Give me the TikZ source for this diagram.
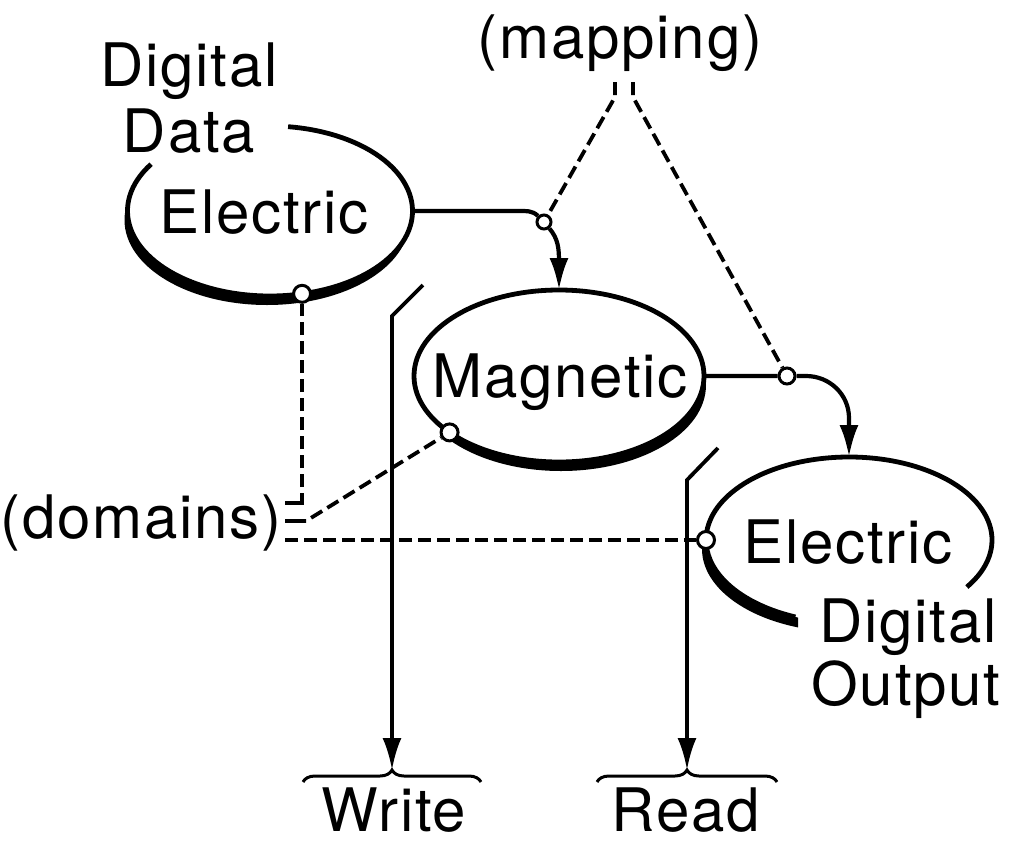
\documentclass[tikz,border=0pt]{standalone}
\usepackage{fontspec}
\setmainfont{TeX Gyre Heros}[LetterSpace=3]
\usetikzlibrary{arrows.meta,shapes.geometric,calc,decorations.pathreplacing}

\begin{document}
\begin{tikzpicture}[x=1pt,y=1pt,
  lbl/.style={font=\fontsize{60}{66}\selectfont, inner sep=0pt, anchor=base},
  rim/.style={line width=4.8pt},
  conn/.style={line width=4.2pt},
  stem/.style={line width=3.8pt},
  tipL/.style={-{Latex[length=32pt,width=19pt]}},
  dsh/.style={line width=3.8pt, dash pattern=on 13pt off 6pt},
  knot/.style={circle, draw, fill=white, line width=3pt, minimum size=17pt, inner sep=0pt},
  oval/.style={ellipse, inner sep=0pt, outer sep=0pt},
  brc/.style={line width=3pt, decorate, decoration={brace, amplitude=12pt}}
]
\useasboundingbox (0,0) rectangle (1021,-844);

% domain ovals (invisible nodes carrying the geometry)
\node[oval, minimum width=285pt, minimum height=170pt] (e1) at (270,-211) {};
\node[oval, minimum width=290pt, minimum height=172pt] (mag) at (559,-376) {};
\node[oval, minimum width=286pt, minimum height=166pt] (e2) at (849,-540) {};

% heavy shaded rims
\begin{scope}[even odd rule]
  \clip (0,0) rectangle (1021,-844) (e1.center) ellipse[x radius=142.5, y radius=85];
  \fill ($(e1.center)+(-3,-9)$) ellipse[x radius=142.5, y radius=85];
\end{scope}
\begin{scope}[even odd rule]
  \clip (449,0) rectangle (1021,-844);
  \clip (0,0) rectangle (1021,-844) (mag.center) ellipse[x radius=145, y radius=86];
  \fill ($(mag.center)+(2,-9)$) ellipse[x radius=145, y radius=86];
\end{scope}
\begin{scope}[even odd rule]
  \clip (0,-541) rectangle (798,-844);
  \clip (0,0) rectangle (1021,-844) (e2.center) ellipse[x radius=143, y radius=83];
  \fill ($(e2.center)+(-4,-9)$) ellipse[x radius=143, y radius=83];
\end{scope}

% outlines
\draw[rim] ($(e1.center)+(146.6:142.5 and 85)$) arc[start angle=146.6, end angle=442.7, x radius=142.5, y radius=85];
\draw[rim] (mag.center) ellipse[x radius=145, y radius=86];
\draw[rim] ($(e2.center)+(-34.5:143 and 83)$) arc[start angle=-34.5, end angle=248, x radius=143, y radius=83];

% junction circles
\node[knot] (c1) at ($(e1.center)+(283:142.5 and 85)$) {};
\node[knot] (c2) at ($(mag.center)+(221:145 and 86)$) {};
\node[knot] (c3) at (e2.west) {};
\node[knot, minimum size=14pt] (c4) at (544,-222) {};
\node[knot, minimum size=16pt] (c5) at (787,-376) {};

% transfer arrows
\draw[conn, tipL] (e1.east) -- (518,-211) to[out=0,in=135] (c4) to[out=-50,in=90] (559,-262) -- (mag.north);
\draw[conn, tipL] (mag.east) -- (c5) -- (806,-376) to[out=0,in=90] (849,-418) -- (e2.north);

% mapping links
\coordinate (mL) at (615,-82);
\coordinate (mR) at (633,-82);
\draw[dsh] (mL) -- ++(0,-15) -- (c4);
\draw[dsh] (mR) -- ++(0,-15) -- (c5);

% domain links
\coordinate (dA) at (285,-503);
\coordinate (dB) at (285,-521);
\coordinate (dC) at (285,-540);
\draw[dsh, dash pattern=on 27pt off 6pt on 13pt off 6pt on 13pt off 6pt on 13pt off 6pt on 13pt off 6pt on 13pt off 6pt on 13pt off 6pt on 13pt off 6pt on 13pt off 6pt on 13pt off 6pt on 13pt off 6pt on 13pt off 6pt]
  (dA) -- (c1 |- dA) -- (c1);
\draw[dsh, dash pattern=on 21pt off 6pt on 13pt off 6pt on 13pt off 6pt on 13pt off 6pt on 13pt off 6pt on 13pt off 6pt on 13pt off 6pt on 13pt off 6pt on 13pt off 6pt on 13pt off 6pt]
  (dB) -- (306,-521) -- (c2);
\draw[dsh] (dC) -- (c3);

% write / read heads
\coordinate (wT) at (423,-285);
\coordinate (wK) at (392,-316);
\coordinate (wTip) at (392,-770);
\coordinate (rT) at (718,-448);
\coordinate (rK) at (687,-480);
\coordinate (rTip) at (687,-770);
\draw[stem, tipL] (wT) -- (wK) -- (wTip);
\draw[stem, tipL] (rT) -- (rK) -- (rTip);

\coordinate (wbL) at (303,-782);
\coordinate (wbR) at (481,-782);
\coordinate (rbL) at (597,-782);
\coordinate (rbR) at (777,-782);
\draw[brc] (wbL) -- (wbR);
\draw[brc] (rbL) -- (rbR);

% labels
\node[lbl] (dig1) at (189,-86) {Digital};
\node[lbl] (dat1) at (189,-152) {Data};
\node[lbl] (t1) at (264,-233) {Electric};
\node[lbl] (map) at (620,-58) {(mapping)};
\node[lbl] (t2) at (560,-397) {Magnetic};
\node[lbl] (dom) at (141,-538) {(domains)};
\node[lbl] (t3) at (848,-563) {Electric};
\node[lbl] (dig2) at (908,-642) {Digital};
\node[lbl] (out2) at (906,-705) {Output};
\node[lbl] (wr) at (394,-831) {Write};
\node[lbl] (rd) at (686,-831) {Read};
\end{tikzpicture}
\end{document}
